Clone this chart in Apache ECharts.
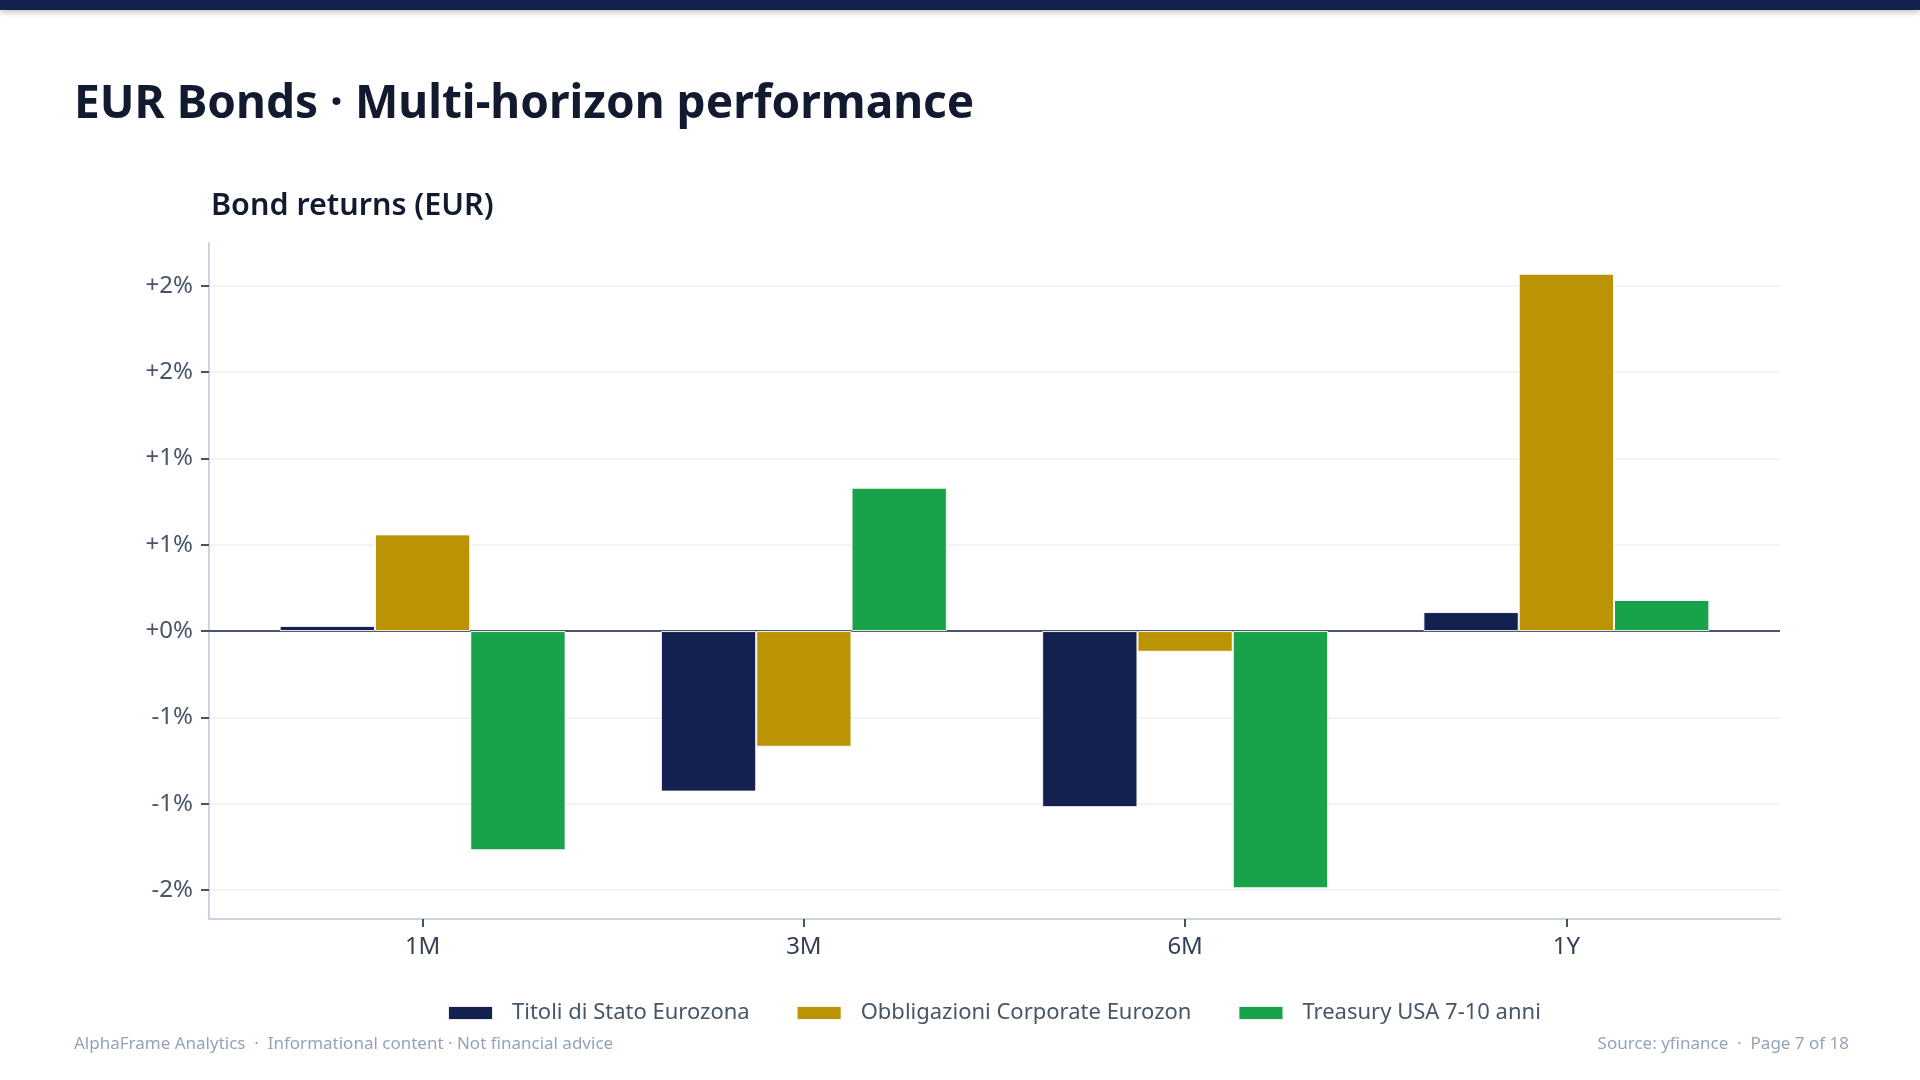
<!DOCTYPE html>
<html>
<head>
<meta charset="utf-8">
<title>EUR Bonds · Multi-horizon performance</title>
<script src="https://cdn.jsdelivr.net/npm/echarts@6/dist/echarts.min.js"></script>
<style>
  html, body { margin: 0; padding: 0; background: #ffffff; }
  #chart { width: 1920px; height: 1080px; }
</style>
</head>
<body>
<div id="chart"></div>
<script>
const horizons = ["1M", "3M", "6M", "1Y"];
const seriesNames = ["Titoli di Stato Eurozona", "Obbligazioni Corporate Eurozon", "Treasury USA 7-10 anni"];
const govEurozone = [0.03, -0.93, -1.02, 0.11];
const corpEurozone = [0.56, -0.67, -0.12, 2.07];
const treasuryUsa = [-1.27, 0.83, -1.49, 0.18];
const yTicks = [-1.5, -1, -0.5, 0, 0.5, 1, 1.5, 2];
const colors = ["#14204f", "#bb9304", "#18a34a"];

const FONT = "'Noto Sans', 'Open Sans', sans-serif";

// axis range: data extent padded by 5% each side
const allValues = govEurozone.concat(corpEurozone, treasuryUsa);
const dataMin = Math.min(...allValues);
const dataMax = Math.max(...allValues);
const pad = (dataMax - dataMin) * 0.05;
const yMin = dataMin - pad;
const yMax = dataMax + pad;

const fmtPct = (v) => {
  const r = Math.round(Math.abs(v));
  return (v < 0 ? "-" : "+") + r + "%";
};

const chart = echarts.init(document.getElementById("chart"), null, { renderer: "canvas" });

const barSeries = [govEurozone, corpEurozone, treasuryUsa].map((values, i) => ({
  name: seriesNames[i],
  type: "bar",
  xAxisIndex: 1,
  yAxisIndex: 1,
  data: values,
  barGap: "0%",
  barCategoryGap: "25%",
  z: 3,
  itemStyle: {
    color: colors[i],
    borderColor: "rgba(255,255,255,0.9)",
    borderWidth: 1,
  },
}));

const option = {
  backgroundColor: "#ffffff",
  animation: false,
  textStyle: { fontFamily: FONT },
  graphic: [
    {
      type: "rect",
      shape: { x: 0, y: 0, width: 1920, height: 10 },
      style: {
        fill: "#16204f",
        shadowBlur: 6,
        shadowOffsetY: 2,
        shadowColor: "rgba(0,0,0,0.25)",
      },
    },
  ],
  title: [
    {
      text: "EUR Bonds · Multi-horizon performance",
      left: 69,
      top: 77,
      textStyle: { fontFamily: FONT, fontSize: 46, fontWeight: "bold", color: "#111a2e" },
    },
    {
      text: "Bond returns (EUR)",
      left: 206,
      top: 186,
      textStyle: { fontFamily: FONT, fontSize: 30.5, fontWeight: 600, color: "#111a2e" },
    },
    {
      text: "AlphaFrame Analytics  ·  Informational content · Not financial advice",
      left: 69,
      top: 1031,
      textStyle: { fontFamily: FONT, fontSize: 17, fontWeight: "normal", color: "#94a3b8" },
    },
    {
      text: "Source: yfinance  ·  Page 7 of 18",
      right: 66,
      top: 1031,
      textStyle: { fontFamily: FONT, fontSize: 17, fontWeight: "normal", color: "#94a3b8" },
    },
  ],
  legend: {
    data: seriesNames,
    left: 442,
    top: 997,
    icon: "rect",
    itemWidth: 45,
    itemHeight: 14,
    itemGap: 46,
    textStyle: {
      fontFamily: FONT,
      fontSize: 22,
      color: "#475569",
      padding: [0, 0, 0, 14],
    },
  },
  grid: [
    { left: 209, right: 140, top: 243, bottom: 161 },
    { left: 232, right: 163, top: 243, bottom: 161 },
  ],
  xAxis: [
    {
      type: "category",
      gridIndex: 0,
      data: horizons,
      axisLine: { show: true, onZero: false, lineStyle: { color: "#cbd5e1", width: 2 } },
      axisTick: { show: false },
      axisLabel: { show: false },
      splitLine: { show: false },
    },
    {
      type: "category",
      gridIndex: 1,
      data: horizons,
      axisLine: { show: false, onZero: false },
      axisTick: { show: true, alignWithLabel: true, length: 8, lineStyle: { color: "#475569", width: 2 } },
      axisLabel: { fontFamily: FONT, fontSize: 24, color: "#334155", margin: 16 },
      splitLine: { show: false },
    },
  ],
  yAxis: [
    {
      type: "value",
      gridIndex: 0,
      min: yMin,
      max: yMax,
      splitNumber: 8,
      axisLine: { show: true, lineStyle: { color: "#cbd5e1", width: 2 } },
      axisTick: { show: true, length: 8, customValues: yTicks, lineStyle: { color: "#475569", width: 2 } },
      axisLabel: {
        customValues: yTicks,
        fontFamily: FONT,
        fontSize: 24,
        color: "#475569",
        margin: 16,
        formatter: fmtPct,
      },
      splitLine: { show: true, lineStyle: { color: "#f1f3f6", width: 2 } },
    },
    {
      type: "value",
      gridIndex: 1,
      min: yMin,
      max: yMax,
      show: false,
      splitLine: { show: false },
    },
  ],
  series: [
    {
      name: "zero",
      type: "line",
      xAxisIndex: 0,
      yAxisIndex: 0,
      data: ["-", "-", "-", "-"],
      showSymbol: false,
      silent: true,
      z: 1,
      markLine: {
        silent: true,
        symbol: ["none", "none"],
        z: 1,
        label: { show: false },
        lineStyle: { color: "#4b5567", width: 2, type: "solid" },
        data: [{ yAxis: 0 }],
      },
    },
    ...barSeries,
  ],
};

chart.setOption(option);

const handleResize = () => chart.resize();
window.addEventListener("resize", handleResize);
</script>
</body>
</html>
